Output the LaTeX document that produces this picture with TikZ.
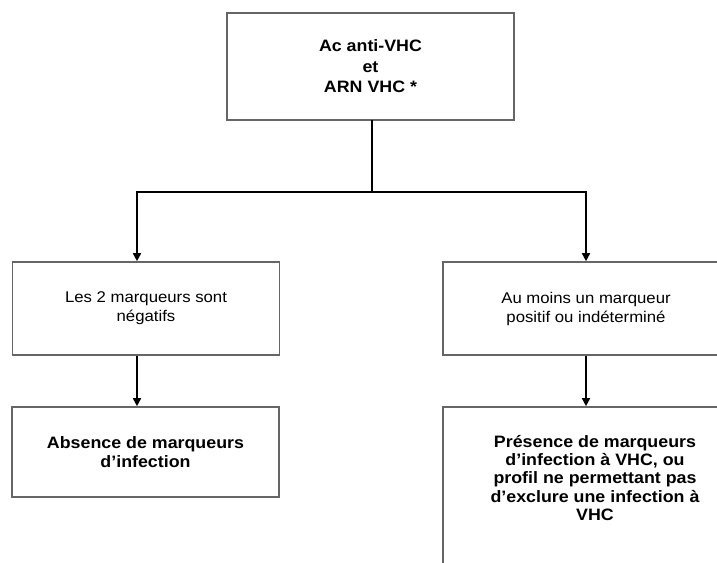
\documentclass[tikz,border=0pt]{standalone}
\usepackage{fontspec}
\setmainfont{Liberation Sans}[FakeStretch=1.08]
\usetikzlibrary{arrows.meta}
\begin{document}
\begin{tikzpicture}[x=1pt,y=-1pt,
  box/.style={draw=black!60, line width=1.6pt, rectangle, inner sep=0pt},
  txt/.style={align=center, font=\fontsize{15.5}{19}\selectfont},
  link/.style={draw=black, line width=1.6pt},
  arrow/.style={link, -{Triangle[length=8pt,width=8pt]}}]
\useasboundingbox (0,0) rectangle (717,562);
\clip (0,0) rectangle (717,562);
\fill[white] (0,0) rectangle (717,562);

% root box
\node[box, txt, font=\fontsize{16.5}{20.5}\selectfont\bfseries,
      minimum width=287pt, minimum height=107pt] (top) at (370.5,66.5)
  {Ac anti-VHC\\et\\ARN VHC *};

% second level
\node[box, txt, minimum width=267pt, minimum height=93pt] (mL) at (146,308.5)
  {Les 2 marqueurs sont\\négatifs};
\node[box, txt, minimum width=286pt, minimum height=93pt] (mR) at (586,308.5)
  {Au moins un marqueur\\positif ou indéterminé};

% third level
\node[box, txt, font=\fontsize{16.5}{19}\selectfont\bfseries,
      minimum width=267pt, minimum height=90pt] (bL) at (145.5,452)
  {Absence de marqueurs\\d'infection};
\node[box, minimum width=304pt, minimum height=233pt] (bR) at (595,523.5) {};
\node[txt, font=\fontsize{16.5}{18.3}\selectfont\bfseries] (tR) at (595,478)
  {Présence de marqueurs\\d'infection à VHC, ou\\profil ne permettant pas\\d'exclure une infection à\\VHC};

% connectors
\coordinate (jT) at (372,192);
\coordinate (jL) at (137,192);
\coordinate (jR) at (586,192);
\draw[link, line cap=rect] (jT |- top.south) -- (jT);
\draw[arrow] (jT) -- (jL) -- (jL |- mL.north);
\draw[arrow] (jT) -- (jR) -- (jR |- mR.north);
\draw[arrow] (jL |- mL.south) -- (jL |- bL.north);
\draw[arrow] (jR |- mR.south) -- (jR |- bR.north);
\end{tikzpicture}
\end{document}
